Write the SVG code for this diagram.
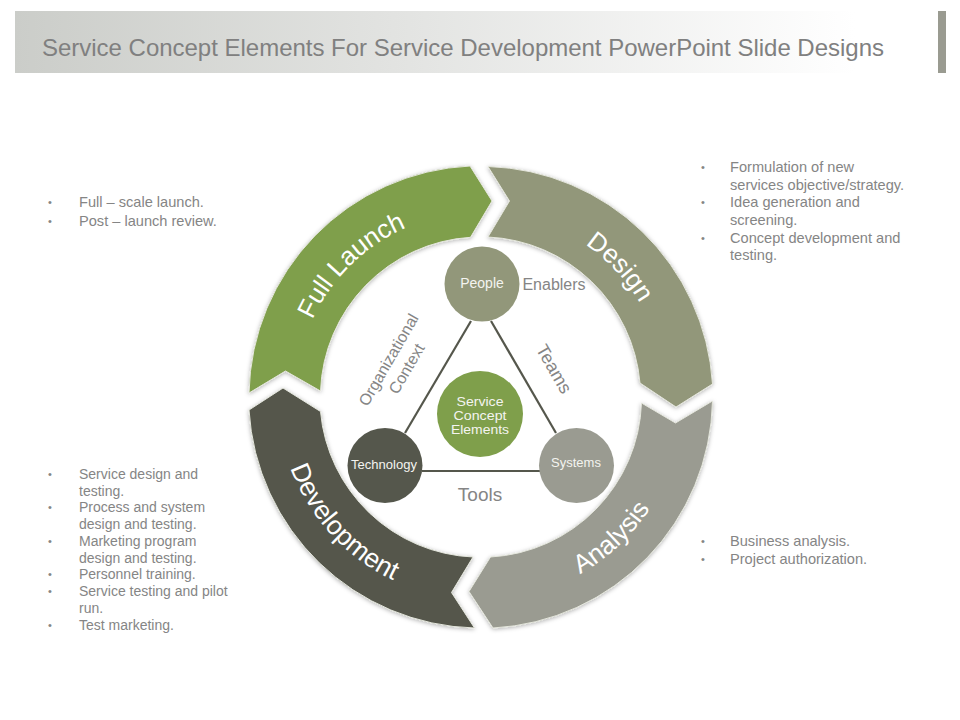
<svg xmlns="http://www.w3.org/2000/svg" width="960" height="720" viewBox="0 0 960 720">
<defs>
<linearGradient id="hdr" x1="0" y1="0" x2="1" y2="0"><stop offset="0" stop-color="#cbcdc9"/><stop offset="0.45" stop-color="#e2e3e1"/><stop offset="1" stop-color="#ffffff"/></linearGradient>
<filter id="sh" x="-10%" y="-10%" width="120%" height="120%"><feDropShadow dx="0" dy="1" stdDeviation="2" flood-color="#000" flood-opacity="0.3"/></filter>
<path id="pFull" d="M296.5 416.3 A185 185 0 0 1 493.4 212.5"/>
<path id="pDesign" d="M467.6 212.5 A185 185 0 0 1 664.5 416.3"/>
<path id="pAnalysis" d="M455.8 598.5 A203 203 0 0 0 683.2 386.4"/>
<path id="pDev" d="M279.5 368.8 A203 203 0 0 0 487.6 599.9"/>
</defs>
<style>
text{font-family:"Liberation Sans",Arial,sans-serif}
.seg{stroke:#e4e6dc;stroke-width:1;filter:url(#sh)}
.seglabel{font-size:26px;fill:#ffffff;text-anchor:middle}
.nl{fill:#f4f4f0;text-anchor:middle;font-size:14px}
.ct{font-size:13px}
.lab{fill:#858585;text-anchor:middle;font-size:16px}
.li{fill:#858585;font-size:14.600px}
.dev{font-size:14px}
.bu{fill:#858585;font-size:11px}
.conn{stroke:#55574c;stroke-width:2.2;fill:none}
</style>
<g id="header">
<rect x="15" y="11" width="840" height="62" fill="url(#hdr)"/>
<rect x="938" y="11" width="8" height="62" fill="#9a9b91"/>
<text x="42" y="56" font-size="24" fill="#808080" textLength="842" lengthAdjust="spacing">Service Concept Elements For Service Development PowerPoint Slide Designs</text>
</g>
<g id="connectors">
<path class="conn" d="M471 321L405 433"/>
<path class="conn" d="M491 321L556 433"/>
<path class="conn" d="M422 471H540"/>
</g>
<g id="full-launch">
<path class="seg" fill="#7f9f4b" d="M249 393A232 232 0 0 1 470 166L492 201L470.500 237.300A160 160 0 0 0 320.500 391L285.500 371Z"/>
<text class="seglabel"><textPath href="#pFull" startOffset="51.500%">Full Launch</textPath></text>
</g>
<g id="design">
<path class="seg" fill="#92977a" d="M488 166.500A232 232 0 0 1 712.500 384L676 407L640 383A160 160 0 0 0 488 237L509.500 201Z"/>
<text class="seglabel"><textPath href="#pDesign" startOffset="51%">Design</textPath></text>
</g>
<g id="analysis">
<path class="seg" fill="#9a9b91" d="M712.500 401A232 232 0 0 1 493 628L469 591.500L490.500 557A160 160 0 0 0 641.500 403L675.500 423Z"/>
<text class="seglabel"><textPath href="#pAnalysis" startOffset="50%">Analysis</textPath></text>
</g>
<g id="development">
<path class="seg" fill="#55574c" d="M249 410A232 232 0 0 0 474.500 628L451.500 592.500L473 557A160 160 0 0 1 320.500 411.500L283 388Z"/>
<text class="seglabel" style="font-size:26.500px"><textPath href="#pDev" startOffset="50.500%">Development</textPath></text>
</g>
<g id="people">
<circle cx="482" cy="284" r="37.500" fill="#92977a"/>
<text class="nl" x="482" y="288">People</text>
</g>
<g id="technology">
<circle cx="385" cy="465.500" r="37.500" fill="#55574c"/>
<text class="nl" x="384" y="469" style="font-size:13px">Technology</text>
</g>
<g id="systems">
<circle cx="576.500" cy="465.500" r="37.500" fill="#9a9b91"/>
<text class="nl" x="576" y="467" style="font-size:13px">Systems</text>
</g>
<g id="center">
<circle cx="480" cy="414" r="43" fill="#7f9f4b"/>
<text class="nl ct" x="480" y="406" textLength="47" lengthAdjust="spacingAndGlyphs">Service</text>
<text class="nl ct" x="480" y="420" textLength="53" lengthAdjust="spacingAndGlyphs">Concept</text>
<text class="nl ct" x="480" y="434" textLength="58" lengthAdjust="spacingAndGlyphs">Elements</text>
</g>
<g id="edge-labels">
<text class="lab" x="554" y="290">Enablers</text>
<text class="lab" x="480" y="501" style="font-size:19px">Tools</text>
<text class="lab" transform="translate(554 369) rotate(60)" y="6" style="font-size:18px">Teams</text>
<text class="lab" transform="translate(389 360) rotate(-60)" y="5">Organizational</text>
<text class="lab" transform="translate(407 369) rotate(-60)" y="5">Context</text>
</g>
<g id="list-full-launch">
<text class="bu" x="48" y="206">•</text><text class="li" x="79" y="207">Full – scale launch.</text>
<text class="bu" x="48" y="225">•</text><text class="li" x="79" y="226">Post – launch review.</text>
</g>
<g id="list-design">
<text class="bu" x="701" y="171">•</text><text class="li" x="730" y="172">Formulation of new</text>
<text class="li" x="730" y="190">services objective/strategy.</text>
<text class="bu" x="701" y="206">•</text><text class="li" x="730" y="207">Idea generation and</text>
<text class="li" x="730" y="225">screening.</text>
<text class="bu" x="701" y="242">•</text><text class="li" x="730" y="243">Concept development and</text>
<text class="li" x="730" y="260">testing.</text>
</g>
<g id="list-development">
<text class="bu" x="48" y="478">•</text><text class="li dev" x="79" y="479">Service design and</text>
<text class="li dev" x="79" y="496">testing.</text>
<text class="bu" x="48" y="511">•</text><text class="li dev" x="79" y="512">Process and system</text>
<text class="li dev" x="79" y="529">design and testing.</text>
<text class="bu" x="48" y="545">•</text><text class="li dev" x="79" y="546">Marketing program</text>
<text class="li dev" x="79" y="563">design and testing.</text>
<text class="bu" x="48" y="578">•</text><text class="li dev" x="79" y="579">Personnel training.</text>
<text class="bu" x="48" y="595">•</text><text class="li dev" x="79" y="596">Service testing and pilot</text>
<text class="li dev" x="79" y="613">run.</text>
<text class="bu" x="48" y="629">•</text><text class="li dev" x="79" y="630">Test marketing.</text>
</g>
<g id="list-analysis">
<text class="bu" x="701" y="545">•</text><text class="li" x="730" y="546">Business analysis.</text>
<text class="bu" x="701" y="563">•</text><text class="li" x="730" y="564">Project authorization.</text>
</g>
</svg>
